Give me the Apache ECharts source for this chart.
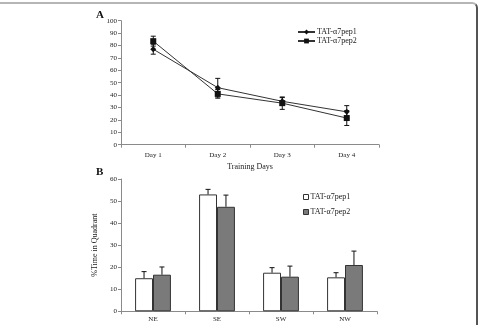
<!DOCTYPE html>
<html>
<head>
<meta charset="utf-8">
<script src="https://cdn.jsdelivr.net/npm/echarts@6/dist/echarts.min.js"></script>
<style>
  html, body { margin: 0; padding: 0; background: #fff; overflow: hidden; width: 479px; height: 325px; }
  #main { position: absolute; left: 0; top: 0; width: 479px; height: 325px; }
  #frame {
    position: absolute; left: -4px; top: 2px; width: 480px; height: 340px;
    border-top: 2px solid #b5b5b5; border-right: 2px solid #555;
    border-top-right-radius: 6px; pointer-events: none;
  }
</style>
</head>
<body>
<div id="main"></div>
<div id="frame"></div>
<script>
const days = ["Day 1", "Day 2", "Day 3", "Day 4"];
const pep1Days = [77, 46, 35, 26.5];
const pep1DaysErr = [4, 7.5, 3, 5];
const pep2Days = [83.5, 41, 33.5, 21.5];
const pep2DaysErr = [4, 3.5, 5, 6];

const quadrants = ["NE", "SE", "SW", "NW"];
const pep1Quad = [15, 53, 17.5, 15.4];
const pep1QuadErr = [3, 2.3, 2.3, 2.1];
const pep2Quad = [16.6, 47.4, 15.7, 21];
const pep2QuadErr = [3.5, 5.3, 4.8, 6.3];

const names = ["TAT-α7pep1", "TAT-α7pep2"];
const font = "Liberation Serif";
const ink = "#222";
const axisGray = "#8a8a8a";
const barGapRatio = 0.44;

function errData(vals, errs) {
  return vals.map((v, i) => [i, v - errs[i], v + errs[i]]);
}

// error bar for the line chart (both directions)
function lineErr(params, api) {
  const x = api.value(0);
  const lo = api.coord([x, api.value(1)]);
  const hi = api.coord([x, api.value(2)]);
  const cap = 2.5;
  const st = { stroke: "#111", lineWidth: 1 };
  return {
    type: "group",
    children: [
      { type: "line", shape: { x1: lo[0], y1: lo[1], x2: hi[0], y2: hi[1] }, style: st },
      { type: "line", shape: { x1: lo[0] - cap, y1: lo[1], x2: lo[0] + cap, y2: lo[1] }, style: st },
      { type: "line", shape: { x1: hi[0] - cap, y1: hi[1], x2: hi[0] + cap, y2: hi[1] }, style: st }
    ]
  };
}

// error bar for the bar chart (upward only), side -1 = left bar, 1 = right bar
function barErr(side) {
  return function (params, api) {
    const x = api.value(0);
    const band = api.size([1, 0])[0];
    const bw = band * (1 - barGapRatio) / 2;
    const base = api.coord([x, api.value(1)]);
    const top = api.coord([x, api.value(2)]);
    const cx = base[0] + side * bw / 2;
    const cap = 2.5;
    const st = { stroke: "#111", lineWidth: 1 };
    return {
      type: "group",
      children: [
        { type: "line", shape: { x1: cx, y1: base[1], x2: cx, y2: top[1] }, style: st },
        { type: "line", shape: { x1: cx - cap, y1: top[1], x2: cx + cap, y2: top[1] }, style: st }
      ]
    };
  };
}

function upErr(vals, errs) {
  return vals.map((v, i) => [i, v, v + errs[i]]);
}

const axisLabel = { color: ink, fontFamily: font, fontSize: 7 };
const axisLine = { show: true, lineStyle: { color: axisGray, width: 1 } };
const axisTick = { show: true, length: 3, lineStyle: { color: axisGray } };

const option = {
  animation: false,
  backgroundColor: "#fff",
  textStyle: { fontFamily: font },
  title: [
    { text: "A", left: 96, top: 10, padding: 0, textStyle: { fontFamily: font, fontSize: 11, fontWeight: "bold", color: "#111" } },
    { text: "B", left: 96, top: 167, padding: 0, textStyle: { fontFamily: font, fontSize: 11, fontWeight: "bold", color: "#111" } }
  ],
  legend: [
    {
      data: names,
      orient: "vertical",
      left: 297,
      top: 28,
      padding: 0,
      itemWidth: 17,
      itemHeight: 6,
      itemGap: 1,
      textStyle: { fontFamily: font, fontSize: 8, color: ink, padding: [0, 0, 0, -3] }
    },
    {
      data: [
        { name: names[0], icon: "rect", itemStyle: { color: "#fff", borderColor: "#333", borderWidth: 1 } },
        { name: names[1], icon: "rect", itemStyle: { color: "#7a7a7a", borderColor: "#333", borderWidth: 1 } }
      ],
      orient: "vertical",
      left: 303,
      top: 193,
      padding: 0,
      itemWidth: 5,
      itemHeight: 5,
      itemGap: 7,
      textStyle: { fontFamily: font, fontSize: 8, color: ink, padding: [0, 0, 0, -3] }
    }
  ],
  grid: [
    { left: 121, top: 20.7, width: 258, height: 124 },
    { left: 121, top: 179, width: 256, height: 132.3 }
  ],
  xAxis: [
    {
      gridIndex: 0, type: "category", data: days,
      name: "Training Days", nameLocation: "middle", nameGap: 18,
      nameTextStyle: { fontFamily: font, fontSize: 8, color: ink },
      axisLine: axisLine, axisTick: axisTick,
      axisLabel: Object.assign({ margin: 7 }, axisLabel)
    },
    {
      gridIndex: 1, type: "category", data: quadrants,
      axisLine: axisLine, axisTick: axisTick,
      axisLabel: Object.assign({ margin: 4 }, axisLabel)
    }
  ],
  yAxis: [
    {
      gridIndex: 0, type: "value", min: 0, max: 100, interval: 10,
      splitLine: { show: false },
      axisLine: axisLine, axisTick: axisTick,
      axisLabel: Object.assign({ margin: 4 }, axisLabel)
    },
    {
      gridIndex: 1, type: "value", min: 0, max: 60, interval: 10,
      name: "%Time in Quadrant", nameLocation: "middle", nameGap: 14,
      nameTextStyle: { fontFamily: font, fontSize: 8, color: ink },
      splitLine: { show: false },
      axisLine: axisLine, axisTick: axisTick,
      axisLabel: Object.assign({ margin: 4 }, axisLabel)
    }
  ],
  series: [
    {
      name: names[0], type: "line", xAxisIndex: 0, yAxisIndex: 0,
      data: pep1Days, symbol: "diamond", symbolSize: 6,
      lineStyle: { color: "#333", width: 1 },
      itemStyle: { color: "#111" }, z: 4
    },
    {
      name: names[1], type: "line", xAxisIndex: 0, yAxisIndex: 0,
      data: pep2Days, symbol: "rect", symbolSize: 6,
      lineStyle: { color: "#333", width: 1 },
      itemStyle: { color: "#111" }, z: 4
    },
    {
      name: "err1", type: "custom", xAxisIndex: 0, yAxisIndex: 0,
      renderItem: lineErr, data: errData(pep1Days, pep1DaysErr), z: 3
    },
    {
      name: "err2", type: "custom", xAxisIndex: 0, yAxisIndex: 0,
      renderItem: lineErr, data: errData(pep2Days, pep2DaysErr), z: 3
    },
    {
      name: names[0], type: "bar", xAxisIndex: 1, yAxisIndex: 1,
      data: pep1Quad, barGap: "0%", barCategoryGap: barGapRatio * 100 + "%",
      itemStyle: { color: "#fff", borderColor: "#333", borderWidth: 1 }
    },
    {
      name: names[1], type: "bar", xAxisIndex: 1, yAxisIndex: 1,
      data: pep2Quad, barGap: "0%", barCategoryGap: barGapRatio * 100 + "%",
      itemStyle: { color: "#7a7a7a", borderColor: "#333", borderWidth: 1 }
    },
    {
      name: "errB1", type: "custom", xAxisIndex: 1, yAxisIndex: 1,
      renderItem: barErr(-1), data: upErr(pep1Quad, pep1QuadErr), z: 3
    },
    {
      name: "errB2", type: "custom", xAxisIndex: 1, yAxisIndex: 1,
      renderItem: barErr(1), data: upErr(pep2Quad, pep2QuadErr), z: 3
    }
  ]
};

const chart = echarts.init(document.getElementById("main"), null, { renderer: "canvas" });
chart.setOption(option);
</script>
</body>
</html>
